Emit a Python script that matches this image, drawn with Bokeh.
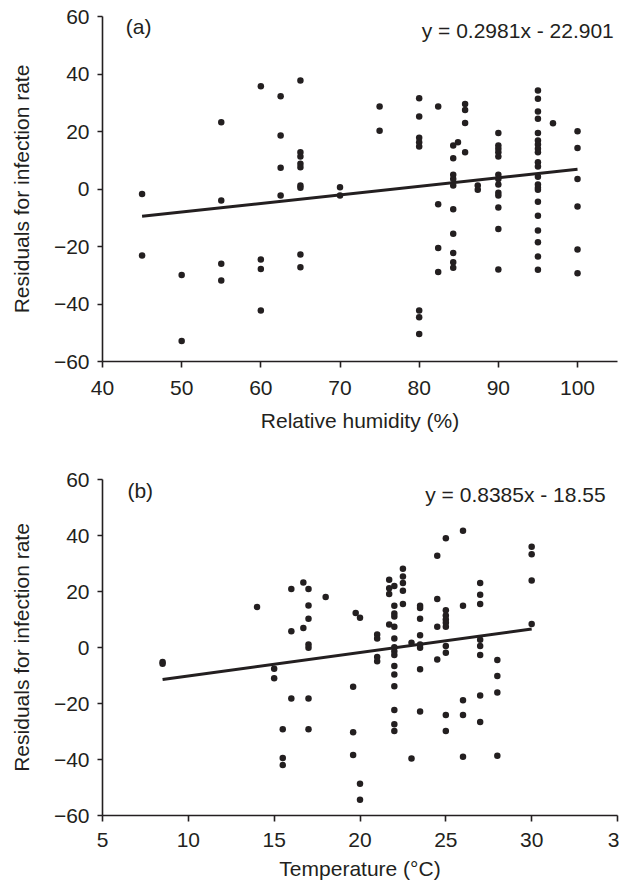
from bokeh.plotting import figure
from bokeh.layouts import column
from bokeh.models import Label, FixedTicker, Range1d
from bokeh.embed import file_html
from bokeh.resources import INLINE

# ---------------- data: panel (a) relative humidity ----------------
rh_levels = [45, 50, 55, 60, 62.5, 65, 70, 75, 80, 82.4, 84.3, 84.9, 85.8,
             87.4, 90, 95, 96.9, 100]
rh_residuals = [
    [-1.7, -23.1],
    [-29.9, -52.9],
    [23.2, -4.0, -26.0, -31.8],
    [35.7, -24.5, -27.8, -42.3],
    [32.3, 18.6, 7.4, -2.3],
    [37.7, 12.8, 11.3, 8.8, 7.6, 1.2, 0.4, -22.8, -27.2],
    [0.6, -2.3],
    [28.7, 20.3],
    [31.6, 25.2, 17.8, 16.3, 14.8, -42.3, -44.6, -50.4],
    [28.7, -5.3, -20.5, -28.9],
    [15.1, 10.7, 5.0, 3.5, 1.2, -7.0, -15.6, -22.3, -25.5, -27.4],
    [16.3],
    [29.6, 27.5, 23.0, 12.8],
    [1.2, -0.3],
    [19.5, 15.1, 14.0, 12.8, 11.3, 5.0, 3.5, 1.6, -1.3, -2.3, -6.4, -13.9, -28.0],
    [34.3, 31.4, 27.0, 24.4, 19.5, 16.9, 15.5, 14.0, 12.8, 9.3, 7.8, 4.3, 1.6,
     0.4, -0.3, -4.4, -9.3, -14.4, -18.5, -23.5, -28.1],
    [22.9],
    [20.1, 14.3, 3.5, -6.1, -21.0, -29.3],
]
slope_a = 0.2981
intercept_a = -22.901

# ---------------- data: panel (b) temperature ----------------
t_levels = [8.5, 14, 15, 15.5, 16, 16.7, 17, 18, 19.6, 19.75, 20, 21, 21.7, 22,
            22.5, 23, 23.5, 24.5, 25, 26, 27, 28, 30]
t_residuals = [
    [-5.2, -5.8],
    [14.5],
    [-7.6, -11.0],
    [-29.2, -39.5, -42.0],
    [20.9, 5.8, -18.2],
    [23.2, 7.0],
    [20.9, 15.0, 10.3, 1.1, -0.1, -18.2, -29.2],
    [18.0],
    [-14.0, -30.3, -38.4],
    [12.3],
    [10.6, -48.7, -54.4],
    [4.6, 3.2, -3.4, -4.9],
    [24.2, 21.2, 19.1, 8.2],
    [22.0, 14.9, 12.1, 11.1, 7.4, 3.2, 0.1, -1.3, -2.7, -6.6, -9.6, -13.8,
     -22.3, -27.4, -29.8],
    [28.1, 25.4, 23.0, 20.3, 15.5],
    [1.7, -39.6],
    [14.9, 14.1, 10.3, 4.4, 1.1, -0.1, -7.8, -22.9],
    [32.8, 17.3, 7.4, -4.3],
    [39.0, 13.3, 11.4, 10.0, 8.8, 7.4, 0.5, -1.9, -24.1, -29.8],
    [41.7, 14.9, -18.8, -24.1, -39.0],
    [23.0, 18.8, 15.5, 2.8, 0.5, -2.7, -17.1, -26.6],
    [-4.5, -10.2, -16.1, -38.7],
    [36.0, 33.3, 23.9, 8.4],
]
slope_b = 0.8385
intercept_b = -18.55

y_ticks = [-60, -40, -20, 0, 20, 40, 60]
rh_ticks = [40, 50, 60, 70, 80, 90, 100]
t_ticks = [5, 10, 15, 20, 25, 30, 35]

INK = "#231f20"
FONT = "Liberation Sans"
FS = "21px"


def flatten(levels, groups):
    xs, ys = [], []
    for lv, g in zip(levels, groups):
        for v in g:
            xs.append(lv)
            ys.append(v)
    return xs, ys


def style(p, xlab, ylab, x_ticks, x_overrides, tick_standoff, xlab_standoff):
    p.outline_line_color = None
    p.xgrid.grid_line_color = None
    p.ygrid.grid_line_color = None
    p.background_fill_color = "white"
    p.border_fill_color = "white"
    for ax in (p.xaxis[0], p.yaxis[0]):
        ax.axis_line_width = 1.6
        ax.axis_line_color = INK
        ax.major_tick_line_color = INK
        ax.major_tick_line_width = 1.6
        ax.major_tick_in = 0
        ax.minor_tick_line_color = None
        ax.major_label_text_font = FONT
        ax.major_label_text_font_size = FS
        ax.major_label_text_color = INK
        ax.axis_label_text_font = FONT
        ax.axis_label_text_font_size = FS
        ax.axis_label_text_font_style = "normal"
        ax.axis_label_text_color = INK
    xa, ya = p.xaxis[0], p.yaxis[0]
    xa.axis_label = xlab
    xa.ticker = FixedTicker(ticks=x_ticks)
    xa.major_tick_out = 6
    xa.major_label_standoff = tick_standoff
    xa.axis_label_standoff = xlab_standoff
    xa.major_label_overrides = x_overrides
    ya.axis_label = ylab
    ya.ticker = FixedTicker(ticks=y_ticks)
    ya.major_tick_out = 5
    ya.major_label_standoff = 8
    ya.axis_label_standoff = 18
    ya.major_label_overrides = {t: ("\u2212" + str(-t)) for t in y_ticks if t < 0}


def panel(levels, groups, slope, intercept, xr, height, borders, xlab,
          x_ticks, x_overrides, tag, tag_xy, eq_xy, tick_standoff, xlab_standoff):
    xs, ys = flatten(levels, groups)
    p = figure(width=619, height=height, output_backend="svg",
               toolbar_location=None, x_range=Range1d(*xr),
               y_range=Range1d(-60, 60),
               min_border_left=borders[0], min_border_right=borders[1],
               min_border_top=borders[2], min_border_bottom=borders[3])
    style(p, xlab, "Residuals for infection rate", x_ticks, x_overrides,
          tick_standoff, xlab_standoff)
    lx = [min(xs), max(xs)]
    ly = [slope * v + intercept for v in lx]
    p.line(lx, ly, line_color=INK, line_width=3)
    p.scatter(xs, ys, size=6.5, fill_color=INK, line_color=None)
    p.add_layout(Label(x=tag_xy[0], y=tag_xy[1], text=tag, text_font=FONT,
                       text_font_size=FS, text_color=INK,
                       text_align="left", text_baseline="middle"))
    eq = f"y = {slope}x - {-intercept}"
    p.add_layout(Label(x=eq_xy[0], y=eq_xy[1], text=eq, text_font=FONT,
                       text_font_size=FS, text_color=INK,
                       text_align="right", text_baseline="middle"))
    return p


pa = panel(rh_levels, rh_residuals, slope_a, intercept_a, (40, 105.05), 435,
           (102, 2, 16, 74), "Relative humidity (%)", rh_ticks, {},
           "(a)", (42.94, 56.4), (104.58, 55.0), 13, 11)
pb = panel(t_levels, t_residuals, slope_b, intercept_b, (5, 35), 447,
           (100, 2, 44, 66), "Temperature (\u00b0C)", t_ticks, {35: "3"},
           "(b)", (6.45, 56.0), (34.31, 54.8), 11, 7)

layout = column(pa, pb, spacing=0)
open("out.html", "w").write(file_html(layout, INLINE))
